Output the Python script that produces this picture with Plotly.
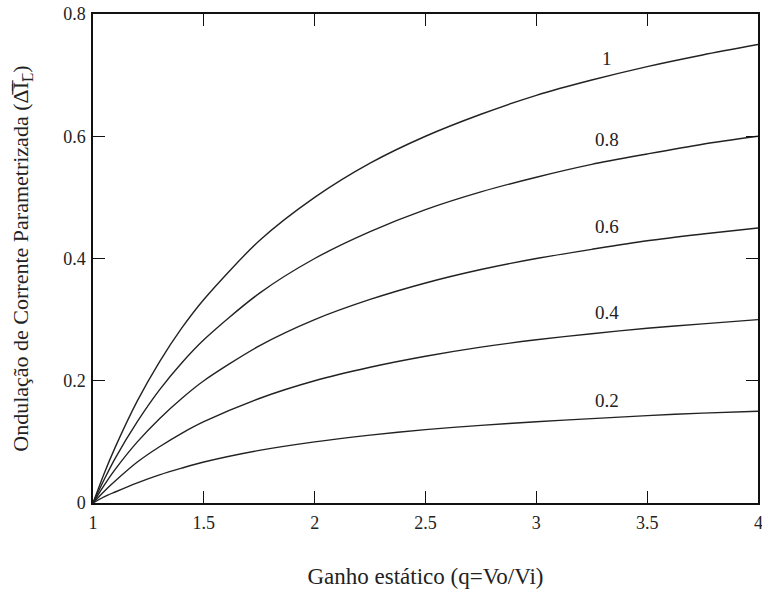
import plotly.graph_objects as go

q = [1, 1.05, 1.1, 1.2, 1.3, 1.4, 1.5, 1.75, 2, 2.25, 2.5, 2.75, 3, 3.25, 3.5, 3.75, 4]
curves = {
    "1":   [0, .048, .091, .167, .231, .286, .333, .429, .5, .556, .6, .636, .667, .692, .714, .733, .75],
    "0.8": [0, .038, .073, .133, .185, .229, .267, .343, .4, .444, .48, .509, .533, .554, .571, .587, .6],
    "0.6": [0, .029, .055, .1, .138, .171, .2, .257, .3, .333, .36, .382, .4, .415, .429, .44, .45],
    "0.4": [0, .019, .036, .067, .092, .114, .133, .171, .2, .222, .24, .255, .267, .277, .286, .293, .3],
    "0.2": [0, .010, .018, .033, .046, .057, .067, .086, .1, .111, .12, .127, .133, .138, .143, .147, .15],
}
label_x = [3.32, 3.32, 3.32, 3.32, 3.32]
label_y = [0.728, 0.594, 0.452, 0.311, 0.168]

xticks = [1, 1.5, 2, 2.5, 3, 3.5, 4]
xticktext = ["1", "1.5", "2", "2.5", "3", "3.5", ""]
last_xtick_label = "4"
yticks = [0, 0.2, 0.4, 0.6, 0.8]
yticktext = ["0", "0.2", "0.4", "0.6", "0.8"]

font = "Liberation Serif"
fig = go.Figure()
for name, ys in curves.items():
    fig.add_trace(go.Scatter(x=q, y=ys, mode="lines", line=dict(color="#222", width=1.4, shape="spline", smoothing=0.8),
                             showlegend=False, hoverinfo="skip"))
for (name, lx, ly) in zip(curves.keys(), label_x, label_y):
    fig.add_annotation(x=lx, y=ly, text=name, showarrow=False, font=dict(family=font, size=19, color="#222"))

# the last x tick label, at the right edge as in the reference
fig.add_annotation(x=xticks[-1], y=0, yref="paper", yanchor="top", yshift=-8, text=last_xtick_label,
                   showarrow=False, xanchor="center", font=dict(family=font, size=18, color="#222"))

axis_common = dict(showgrid=False, zeroline=False, showline=True, linecolor="#111", linewidth=1.5,
                   mirror="ticks", ticks="inside", ticklen=12, tickwidth=1.3, tickcolor="#111",
                   automargin=False, tickfont=dict(family=font, size=18, color="#222"))
fig.update_xaxes(range=[1, 4], tickvals=xticks, ticktext=xticktext, ticklabelstandoff=3,
                 title=dict(text="Ganho estático (q=Vo/Vi)", font=dict(family=font, size=23, color="#222"), standoff=36),
                 **axis_common)
fig.update_yaxes(range=[0, 0.8], tickvals=yticks, ticktext=yticktext, ticklabelstandoff=2,
                 title=dict(text="Ondulação de Corrente Parametrizada (Δ̅I̅<sub>L̅</sub>)", font=dict(family=font, size=22, color="#222"), standoff=28),
                 **axis_common)
fig.update_layout(width=762, height=593, margin=dict(l=93, r=4, t=14, b=90),
                  plot_bgcolor="white", paper_bgcolor="white")
fig.write_html("out.html", post_script="document.body.style.margin='0';",
               config={"displayModeBar": False})
